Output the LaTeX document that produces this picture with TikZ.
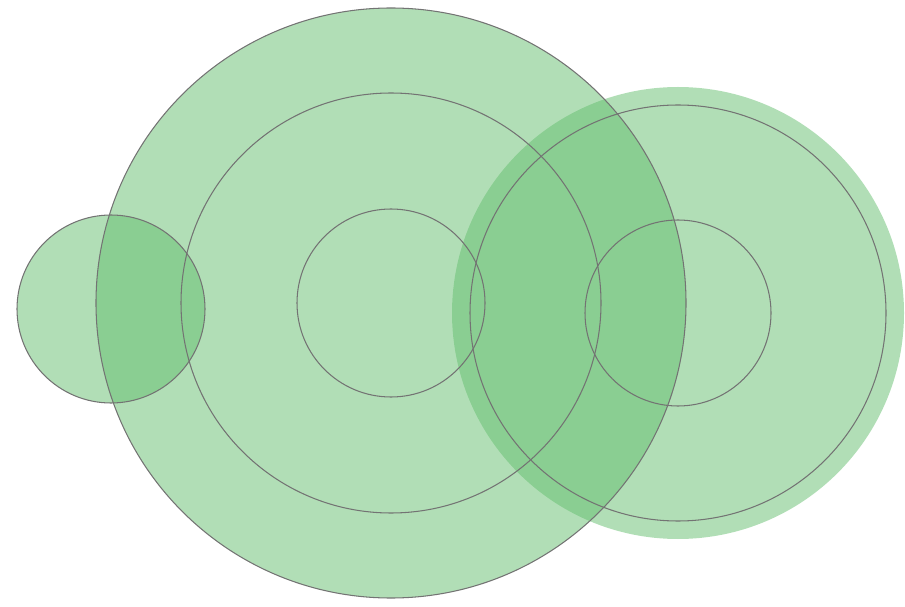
\documentclass[tikz,border=0pt]{standalone}
\usepackage{tikz}
\usetikzlibrary{positioning}

\begin{document}
\begin{tikzpicture}[
  x=0.02cm, y=-0.02cm,
  disc/.style={fill={rgb,255:red,100;green,190;blue,110}, fill opacity=0.5},
  ring/.style={draw=black!55, line width=0.6pt},
]
\useasboundingbox (0,0) rectangle (905,607);

% === Centres ===
\coordinate (left) at (111,309);
\coordinate (mid) at (391,303);
\coordinate (right) at (678,313);

% === Filled discs ===
\fill[disc] (mid) circle (295);
\fill[disc] (left) circle (94);
\fill[disc] (right) circle (226);

% === Outlines ===
\draw[ring] (left) circle (94);
\foreach \r in {295, 210, 94} {
  \draw[ring] (mid) circle (\r);
}
\foreach \r in {208, 93} {
  \draw[ring] (right) circle (\r);
}

\end{tikzpicture}
\end{document}
